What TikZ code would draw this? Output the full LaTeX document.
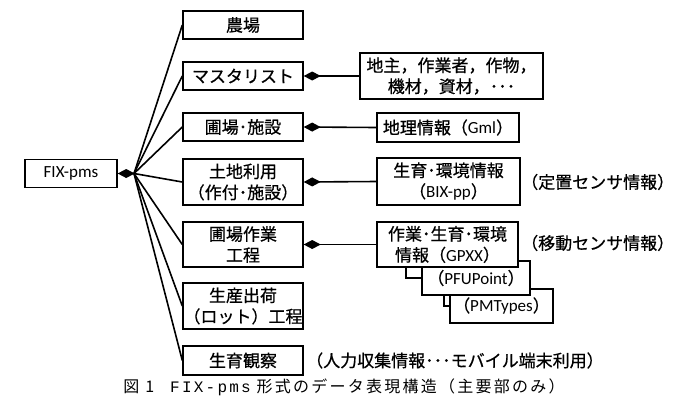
\documentclass[tikz,border=0pt]{standalone}
\usepackage{fontspec}
\setmainfont{Carlito}
\newfontfamily\jp[FakeBold=0.6]{Noto Sans CJK JP}
\newfontfamily\capfont[LetterSpace=14]{Noto Sans CJK JP}
\newfontfamily\capmono[LetterSpace=14]{Liberation Mono}
\usetikzlibrary{arrows.meta}
\newcommand\latn[1]{{\rmfamily #1}}

\begin{document}
\begin{tikzpicture}[x=1pt, y=-1pt,
  box/.style={draw, line width=1.4pt, fill=white, inner sep=0pt, align=center,
    font=\jp\fontsize{17}{21}\selectfont},
  main/.style={box, minimum width=120, minimum height=28},
  link/.style={line width=1.6pt},
  comp/.style={line width=1.6pt, {Diamond[length=17pt, width=9pt]}-},
  note/.style={anchor=west, inner sep=0pt, font=\jp\fontsize{17}{21}\selectfont}]
\useasboundingbox (0,0) rectangle (700,410);
\def\colx{243}
% root
\node[box, minimum width=92, minimum height=28, font=\fontsize{17}{20}\selectfont] (fix) at (71,173.5) {FIX-pms};
\coordinate (hub) at (134,173.5);
\draw[comp] (fix.east) -- (hub);
% main elements
\node[main] (farm) at (\colx,25) {農場};
\node[main] (mast) at (\colx,76) {マスタリスト};
\node[main] (plot) at (\colx,127) {圃場･施設};
\node[main, minimum height=46] (land) at (\colx,182) {土地利用\\（作付･施設）};
\node[main, minimum height=45] (work) at (\colx,244.5) {圃場作業\\工程};
\node[main, minimum height=46] (ship) at (\colx,306) {生産出荷\\（ロット）工程};
\node[main, minimum height=29] (obs) at (\colx,360.5) {生育観察};
\foreach \n in {farm, mast, plot, land, work, ship, obs}
  \draw[link] (hub) -- (\n.west);
% sub elements
\node[box, minimum width=183, minimum height=46] (mlist) at (451.5,76) {地主，作業者，作物，\\機材，資材，･･･};
\node[box, minimum width=142, minimum height=29] (geo) at (448,127.5) {地理情報（\latn{Gml}）};
\node[box, minimum width=143, minimum height=47] (bix) at (448.5,181.5) {生育･環境情報\\（\latn{BIX-pp}）};
\node[box, minimum width=103, minimum height=34] (pmt) at (501.5,306) {（\latn{PMTypes}）};
\node[box, minimum width=108, minimum height=34] (pfu) at (476,278) {（\latn{PFUPoint}）};
\node[box, minimum width=141, minimum height=45] (gpxx) at (447.5,244.5) {作業･生育･環境\\情報（\latn{GPXX}）};
\draw[comp] (mast.east) -- (mlist.west);
\draw[comp] (plot.east) -- (geo.west);
\draw[comp] (land.east) -- (bix.west);
\draw[comp] (work.east) -- (gpxx.west);
\draw[line width=1.2pt] ([xshift=-41.5]gpxx.south) |- (pfu.west);
\draw[line width=1.2pt] ([xshift=-32]pfu.south) |- (pmt.west);
% notes
\node[note] (fixed) at (521,182) {（定置センサ情報）};
\node[note] (mobile) at (521,243) {（移動センサ情報）};
\node[note] (manual) at (306,360.5) {（人力収集情報･･･モバイル端末利用）};
% caption
\node[font=\capfont\fontsize{16}{19}\selectfont] (cap) at (344,387) {図 1\quad{\capmono FIX-pms} 形式のデータ表現構造（主要部のみ）};
\end{tikzpicture}
\end{document}
